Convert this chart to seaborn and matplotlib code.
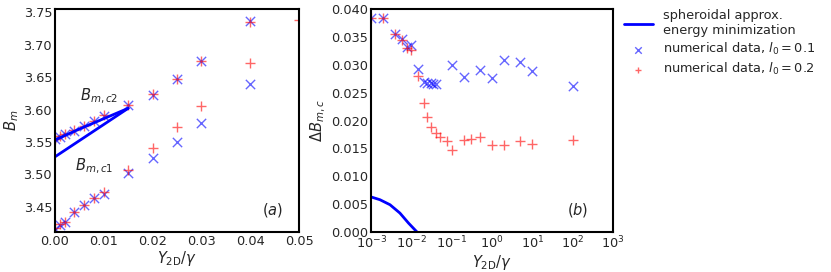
import numpy as np
import pandas as pd
import matplotlib
matplotlib.use('Agg')
import matplotlib.pyplot as plt
import seaborn as sns

# ---- panel (a): B_m vs Y_2D/gamma ----
y2d_a = [0.0, 0.001, 0.002, 0.004, 0.006, 0.008, 0.01, 0.015, 0.02, 0.025, 0.03, 0.04]
bm_low_01 = [3.416, 3.422, 3.426, 3.442, 3.452, 3.463, 3.470, 3.502, 3.525, 3.550, 3.579, 3.639]
bm_up_01 = [3.554, 3.558, 3.562, 3.567, 3.574, 3.582, 3.590, 3.607, 3.623, 3.647, 3.675, 3.737]

y2d_a_02 = [0.0, 0.001, 0.002, 0.004, 0.006, 0.008, 0.01, 0.015, 0.02, 0.025, 0.03, 0.04, 0.05]
bm_low_02 = [3.417, 3.423, 3.427, 3.442, 3.452, 3.464, 3.473, 3.507, 3.540, 3.573, 3.606, 3.672, 3.738]
bm_up_02 = [3.555, 3.559, 3.563, 3.568, 3.575, 3.583, 3.591, 3.607, 3.624, 3.647, 3.675, 3.736]

# spheroidal approximation lines
sph_x = [0.0, 0.005, 0.01, 0.015]
sph_c2 = [3.553, 3.570, 3.586, 3.602]
sph_c1 = [3.527, 3.552, 3.577, 3.602]

# ---- panel (b): Delta B_m,c vs Y_2D/gamma ----
y2d_b_01 = [0.001, 0.002, 0.004, 0.006, 0.008, 0.01, 0.015, 0.02, 0.025, 0.03, 0.035, 0.04,
            0.1, 0.2, 0.5, 1, 2, 5, 10, 100]
dbm_01 = [0.0384, 0.0384, 0.0355, 0.0346, 0.0332, 0.0336, 0.0293, 0.0270, 0.0268, 0.0267, 0.0266, 0.0265,
          0.0300, 0.0278, 0.0291, 0.0277, 0.0309, 0.0306, 0.0290, 0.0262]

y2d_b_02 = [0.001, 0.002, 0.004, 0.006, 0.008, 0.01, 0.015, 0.02, 0.025, 0.03, 0.04, 0.05, 0.075,
            0.1, 0.2, 0.3, 0.5, 1, 2, 5, 10, 100]
dbm_02 = [0.0384, 0.0384, 0.0355, 0.0345, 0.0330, 0.0327, 0.0280, 0.0231, 0.0207, 0.0188, 0.0177, 0.0170, 0.0163,
          0.0147, 0.0165, 0.0167, 0.0170, 0.0157, 0.0157, 0.0163, 0.0158, 0.0165]

sph_b_x = [0.001, 0.00166, 0.00295, 0.0052, 0.0085, 0.0138]
sph_b_y = [0.0063, 0.0058, 0.0049, 0.0034, 0.0016, 0.0]

sns.set_style('white')
plt.rcParams['font.family'] = ['DejaVu Sans']
plt.rcParams['font.size'] = 9.3
plt.rcParams['axes.linewidth'] = 1.5

fig = plt.figure(figsize=(8.31, 2.72), dpi=100)
ax1 = fig.add_axes([0.066, 0.147, 0.294, 0.819])
ax2 = fig.add_axes([0.4465, 0.147, 0.2912, 0.819])

blue = '#0000ff'
red = '#ff0000'
mk = dict(s=45, alpha=0.6, linewidth=1.0)

# panel (a)
sns.lineplot(x=sph_x, y=sph_c2, color=blue, lw=2, ax=ax1, label='spheroidal approx.\nenergy minimization')
sns.lineplot(x=sph_x, y=sph_c1, color=blue, lw=2, ax=ax1)
sns.scatterplot(x=y2d_a + y2d_a, y=bm_low_01 + bm_up_01, marker='x', color=blue, ax=ax1,
                label=r'numerical data, $l_0 = 0.1$', **mk)
sns.scatterplot(x=y2d_a_02 + y2d_a_02[:-1], y=bm_low_02 + bm_up_02, marker='+', color=red, ax=ax1,
                label=r'numerical data, $l_0 = 0.2$', **mk)
ax1.set_xlim(0, 0.05)
ax1.set_ylim(3.411, 3.755)
ax1.set_xticks([0, 0.01, 0.02, 0.03, 0.04, 0.05])
ax1.set_yticks([3.45, 3.50, 3.55, 3.60, 3.65, 3.70, 3.75])
ax1.set_xlabel(r'$Y_{\mathrm{2D}}/\gamma$', fontsize=10.5, labelpad=1)
ax1.set_ylabel(r'$B_m$', fontsize=10.5, labelpad=2)
ax1.text(0.0051, 3.615, r'$B_{m,c2}$', fontsize=10.5)
ax1.text(0.0041, 3.506, r'$B_{m,c1}$', fontsize=10.5)
ax1.text(0.89, 0.10, r'$(a)$', transform=ax1.transAxes, ha='center', va='center', fontsize=10.5)
handles, labels = ax1.get_legend_handles_labels()
ax1.get_legend().remove()

# panel (b)
sns.lineplot(x=sph_b_x, y=sph_b_y, color=blue, lw=2, ax=ax2)
sns.scatterplot(x=y2d_b_01, y=dbm_01, marker='x', color=blue, ax=ax2, **mk)
sns.scatterplot(x=y2d_b_02, y=dbm_02, marker='+', color=red, ax=ax2, **mk)
ax2.set_xscale('log')
ax2.set_xlim(1e-3, 1e3)
ax2.set_ylim(0, 0.04)
ax2.set_xticks([1e-3, 1e-2, 1e-1, 1e0, 1e1, 1e2, 1e3])
ax2.minorticks_off()
ax2.set_yticks([0, 0.005, 0.01, 0.015, 0.02, 0.025, 0.03, 0.035, 0.04])
ax2.yaxis.set_major_formatter(matplotlib.ticker.FormatStrFormatter('%.3f'))
ax2.set_xlabel(r'$Y_{\mathrm{2D}}/\gamma$', fontsize=10.5, labelpad=1)
ax2.set_ylabel(r'$\Delta B_{m,c}$', fontsize=10.5, labelpad=2)
ax2.text(0.855, 0.10, r'$(b)$', transform=ax2.transAxes, ha='center', va='center', fontsize=10.5)

for ax in (ax1, ax2):
    ax.tick_params(length=0, pad=2, labelsize=9.3)
    for sp in ax.spines.values():
        sp.set_color('black')

fig.legend(handles, labels, loc='upper left', bbox_to_anchor=(0.745, 0.985), frameon=False,
           fontsize=9.3, handlelength=2.2, handletextpad=0.8, labelspacing=0.3, borderaxespad=0,
           markerscale=0.7)

fig.savefig('out.png', dpi=100)
